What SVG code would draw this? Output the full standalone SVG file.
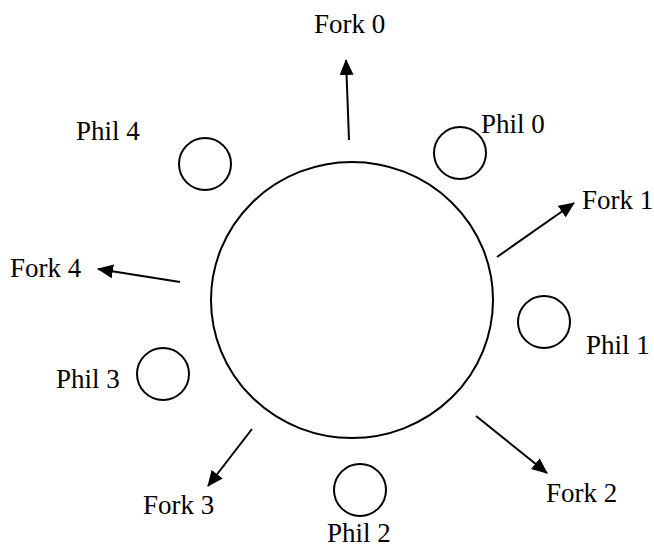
<svg xmlns="http://www.w3.org/2000/svg" width="654" height="547" viewBox="0 0 654 547">
  <style>
    .ring { fill: none; stroke: #000; stroke-width: 2; }
    .phil { fill: none; stroke: #000; stroke-width: 2; }
    .edge { stroke: #000; stroke-width: 2; fill: none; marker-end: url(#head); }
    text { font-family: "Liberation Serif", "Times New Roman", serif; font-size: 27px; fill: #000; }
  </style>
  <defs>
    <marker id="head" viewBox="0 0 16 14" refX="15" refY="7" markerWidth="16" markerHeight="14" markerUnits="userSpaceOnUse" orient="auto">
      <path d="M0,0 L16,7 L0,14 z" fill="#000"/>
    </marker>
  </defs>
  <rect width="654" height="547" fill="#fff"/>

  <!-- table -->
  <g id="table">
    <ellipse class="ring" cx="352" cy="300" rx="141" ry="138"/>
  </g>

  <!-- philosophers -->
  <g id="phil0"><circle class="phil" cx="460" cy="153" r="26"/><text x="481" y="133">Phil 0</text></g>
  <g id="phil1"><circle class="phil" cx="544" cy="322" r="26"/><text x="586" y="354">Phil 1</text></g>
  <g id="phil2"><circle class="phil" cx="360" cy="490" r="26"/><text x="327" y="542">Phil 2</text></g>
  <g id="phil3"><circle class="phil" cx="163" cy="374" r="26"/><text x="56" y="388">Phil 3</text></g>
  <g id="phil4"><circle class="phil" cx="205" cy="164" r="26"/><text x="76" y="140">Phil 4</text></g>

  <!-- fork labels -->
  <g id="fork0"><text x="314" y="33">Fork 0</text></g>
  <g id="fork1"><text x="582" y="209">Fork 1</text></g>
  <g id="fork2"><text x="546" y="502">Fork 2</text></g>
  <g id="fork3"><text x="143" y="514">Fork 3</text></g>
  <g id="fork4"><text x="10" y="277">Fork 4</text></g>

  <!-- arrows from the table to each fork -->
  <g id="connectors">
    <line class="edge" x1="349" y1="140" x2="346" y2="60"/>
    <line class="edge" x1="497" y1="257" x2="574" y2="203"/>
    <line class="edge" x1="476" y1="416" x2="547" y2="473"/>
    <line class="edge" x1="252" y1="429" x2="208" y2="486"/>
    <line class="edge" x1="180" y1="282" x2="98" y2="269"/>
  </g>
</svg>
